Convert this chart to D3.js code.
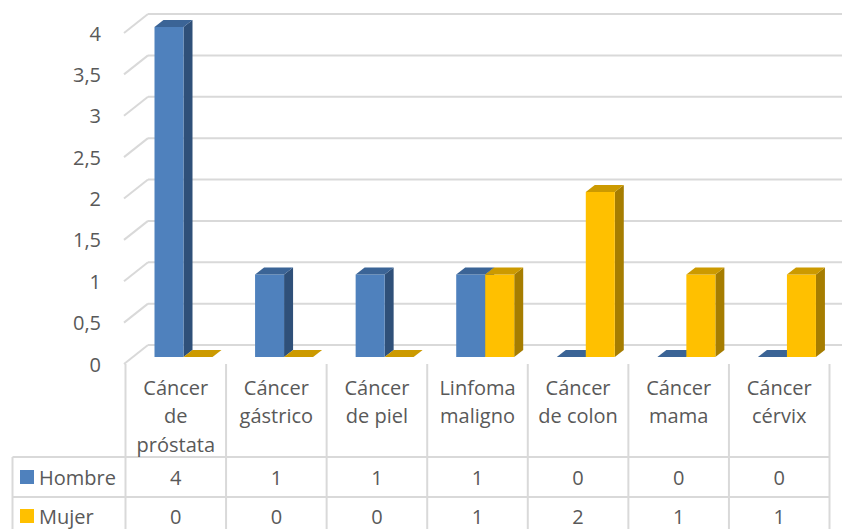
<!DOCTYPE html>
<html>
<head>
<meta charset="utf-8">
<script src="https://cdn.jsdelivr.net/npm/d3@7"></script>
<style>
html,body{margin:0;padding:0;background:#fff;}
svg{display:block;}
text{font-family:"Open Sans",sans-serif;fill:#595959;}
</style>
</head>
<body>
<svg id="chart" width="842" height="529"></svg>
<script>
const categories = [["Cáncer","de","próstata"],["Cáncer","gástrico"],["Cáncer","de piel"],["Linfoma","maligno"],["Cáncer","de colon"],["Cáncer","mama"],["Cáncer","cérvix"]];
const seriesNames = ["Hombre","Mujer"];
const hombre = [4,1,1,1,0,0,0];
const mujer = [0,0,0,1,2,1,1];
const yTicks = [0,0.5,1,1.5,2,2.5,3,3.5,4];
const yTickLabels = ["0","0,5","1","1,5","2","2,5","3","3,5","4"];

const seriesValues = [hombre, mujer];
const colors = {
  Hombre:{front:"#4F81BD", side:"#2F5079", top:"#3B6496"},
  Mujer:{front:"#FFC000", side:"#A67D00", top:"#CC9A00"}
};

const svg = d3.select("#chart");
const catKeys = categories.map((c,i)=>i);
const fs = 20;

// geometry
const x = d3.scaleBand().domain(catKeys).range([125.5, 829.5]).paddingInner(0).paddingOuter(0);
const xs = d3.scaleBand().domain(seriesNames).range([29, 87]);
const yBack = d3.scaleLinear().domain([0,4]).range([345, 14]);
const yFront = d3.scaleLinear().domain([0,4]).range([364, 33]);
const yBar = d3.scaleLinear().domain([0,4]).range([357, 27]);
const depthX = 9, depthY = -7;
const wallX = 148, frontX = 124;
const gridColor = "#D9D9D9";

// gridlines (back wall + left wall diagonals)
const grid = svg.append("g");
yTicks.forEach(v=>{
  grid.append("line").attr("x1",wallX).attr("x2",842).attr("y1",yBack(v)).attr("y2",yBack(v))
    .attr("stroke",gridColor).attr("stroke-width",2);
  grid.append("line").attr("x1",frontX).attr("y1",yFront(v)).attr("x2",wallX).attr("y2",yBack(v))
    .attr("stroke",gridColor).attr("stroke-width",2);
});

// y labels
svg.append("g").selectAll("text").data(yTicks).join("text")
  .attr("x",101).attr("y",d=>yFront(d)).attr("text-anchor","end").attr("dominant-baseline","central")
  .attr("font-size",fs).text((d,i)=>yTickLabels[i]);

// bars
const bars = svg.append("g");
catKeys.forEach(ci=>{
  seriesNames.forEach((s,si)=>{
    const v = seriesValues[si][ci];
    const x0 = x(ci)+xs(s), w = xs.bandwidth();
    const yb = yBar(0), yt = yBar(v);
    const c = colors[s];
    if (v>0){
      bars.append("path").attr("d",`M${x0+w},${yt}L${x0+w+depthX},${yt+depthY}L${x0+w+depthX},${yb+depthY}L${x0+w},${yb}Z`).attr("fill",c.side);
      bars.append("rect").attr("x",x0).attr("y",yt).attr("width",w).attr("height",yb-yt).attr("fill",c.front);
    }
    bars.append("path").attr("d",`M${x0},${yt}L${x0+depthX},${yt+depthY}L${x0+w+depthX},${yt+depthY}L${x0+w},${yt}Z`).attr("fill",c.top);
  });
});

// data table
const tbl = svg.append("g");
const tTop = 364, r1 = 457, r2 = 497, r3 = 537;
const tLeft = 12.5;
x.domain().forEach(ci=>{
  tbl.append("line").attr("x1",x(ci)).attr("x2",x(ci)).attr("y1",tTop).attr("y2",529).attr("stroke",gridColor).attr("stroke-width",2);
});
tbl.append("line").attr("x1",x.range()[1]).attr("x2",x.range()[1]).attr("y1",tTop).attr("y2",529).attr("stroke",gridColor).attr("stroke-width",2);
tbl.append("line").attr("x1",tLeft).attr("x2",tLeft).attr("y1",r1).attr("y2",529).attr("stroke",gridColor).attr("stroke-width",2);
[r1,r2,r3].forEach(yy=>{
  tbl.append("line").attr("x1",tLeft).attr("x2",x.range()[1]).attr("y1",yy).attr("y2",yy).attr("stroke",gridColor).attr("stroke-width",2);
});

// category labels
categories.forEach((lines,ci)=>{
  lines.forEach((ln,li)=>{
    tbl.append("text").attr("x",x(ci)+x.bandwidth()/2).attr("y",387+li*28.5)
      .attr("text-anchor","middle").attr("dominant-baseline","central").attr("font-size",fs).text(ln);
  });
});

// series rows
const rowY = [477, 516];
seriesNames.forEach((s,si)=>{
  tbl.append("rect").attr("x",20).attr("y",rowY[si]-7).attr("width",14).attr("height",14).attr("fill",colors[s].front);
  tbl.append("text").attr("x",39).attr("y",rowY[si]).attr("dominant-baseline","central").attr("font-size",fs).text(s);
  seriesValues[si].forEach((v,ci)=>{
    tbl.append("text").attr("x",x(ci)+x.bandwidth()/2).attr("y",rowY[si]).attr("text-anchor","middle")
      .attr("dominant-baseline","central").attr("font-size",fs).text(String(v));
  });
});
</script>
</body>
</html>
